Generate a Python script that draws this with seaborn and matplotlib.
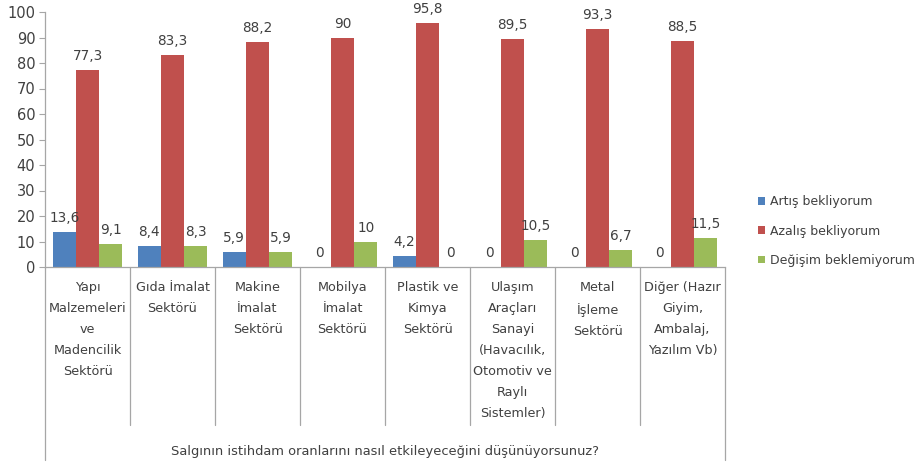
import pandas as pd
import numpy as np
import seaborn as sns
import matplotlib
matplotlib.use("Agg")
import matplotlib.pyplot as plt
from matplotlib.patches import Patch

# data
sectors = [
    "Yapı\nMalzemeleri\nve\nMadencilik\nSektörü",
    "Gıda İmalat\nSektörü",
    "Makine\nİmalat\nSektörü",
    "Mobilya\nİmalat\nSektörü",
    "Plastik ve\nKimya\nSektörü",
    "Ulaşım\nAraçları\nSanayi\n(Havacılık,\nOtomotiv ve\nRaylı\nSistemler)",
    "Metal\nİşleme\nSektörü",
    "Diğer (Hazır\nGiyim,\nAmbalaj,\nYazılım Vb)",
]
series_names = ["Artış bekliyorum", "Azalış bekliyorum", "Değişim beklemiyorum"]
artis = [13.6, 8.4, 5.9, 0, 4.2, 0, 0, 0]
azalis = [77.3, 83.3, 88.2, 90, 95.8, 89.5, 93.3, 88.5]
degisim = [9.1, 8.3, 5.9, 10, 0, 10.5, 6.7, 11.5]
axis_title = "Salgının istihdam oranlarını nasıl etkileyeceğini düşünüyorsunuz?"

colors = ["#4F81BD", "#C0504D", "#9BBB59"]
text_color = "#404040"
line_color = "#A6A6A6"

rows = []
for i, s in enumerate(sectors):
    for name, vals in zip(series_names, [artis, azalis, degisim]):
        rows.append({"sector": i, "series": name, "value": vals[i]})
df = pd.DataFrame(rows)

sns.set_style("white")
plt.rcParams["font.family"] = ["DejaVu Sans"]

fig = plt.figure(figsize=(9.15, 4.66), dpi=100)
ax = fig.add_axes([45 / 915, 1 - 267 / 466, (725 - 45) / 915, (267 - 12) / 466])

sns.barplot(data=df, x="sector", y="value", hue="series", hue_order=series_names,
            palette=colors, width=0.82, gap=0, saturation=1, ax=ax, legend=False,
            edgecolor="none", linewidth=0)

for cont, vals in zip(ax.containers, [artis, azalis, degisim]):
    labels = [("%g" % v).replace(".", ",") for v in vals]
    ax.bar_label(cont, labels=labels, padding=5, fontsize=9.8, color=text_color)

ax.set_xlim(-0.5, len(sectors) - 0.5)
ax.set_ylim(0, 100)
ax.set_yticks(range(0, 101, 10))
ax.tick_params(axis="y", labelsize=10.5, labelcolor=text_color, length=4, width=0.8,
               direction="out", left=True, pad=3, color=line_color)
ax.set_xticks([])
ax.set_xlabel("")
ax.set_ylabel("")
for side in ["top", "right"]:
    ax.spines[side].set_visible(False)
for side in ["left", "bottom"]:
    ax.spines[side].set_color(line_color)
    ax.spines[side].set_linewidth(0.9)

# multi-level category axis
trans = ax.get_xaxis_transform()
y_sep = (267 - 425) / 255
y_out = (267 - 460) / 255
for b in np.arange(0.5, len(sectors) - 1, 1.0):
    ax.plot([b, b], [0, y_sep], color=line_color, lw=0.9, transform=trans, clip_on=False)
for b in [-0.5, len(sectors) - 0.5]:
    ax.plot([b, b], [0, y_out], color=line_color, lw=0.9, transform=trans, clip_on=False)

for i, s in enumerate(sectors):
    ax.text(i, -0.055, s, transform=trans, ha="center", va="top", fontsize=9.2,
            color=text_color, linespacing=1.8)
ax.text((len(sectors) - 1) / 2, (267 - 451) / 255, axis_title, transform=trans,
        ha="center", va="center", fontsize=9.4, color=text_color)

handles = [Patch(facecolor=c, edgecolor="none") for c in colors]
fig.legend(handles, series_names, loc="center left", bbox_to_anchor=(752 / 915, 1 - 231 / 466),
           frameon=False, fontsize=9, handlelength=0.55, handleheight=0.55, handletextpad=0.4,
           labelspacing=1.3, labelcolor=text_color, borderpad=0)

fig.savefig("out.png", dpi=100)
